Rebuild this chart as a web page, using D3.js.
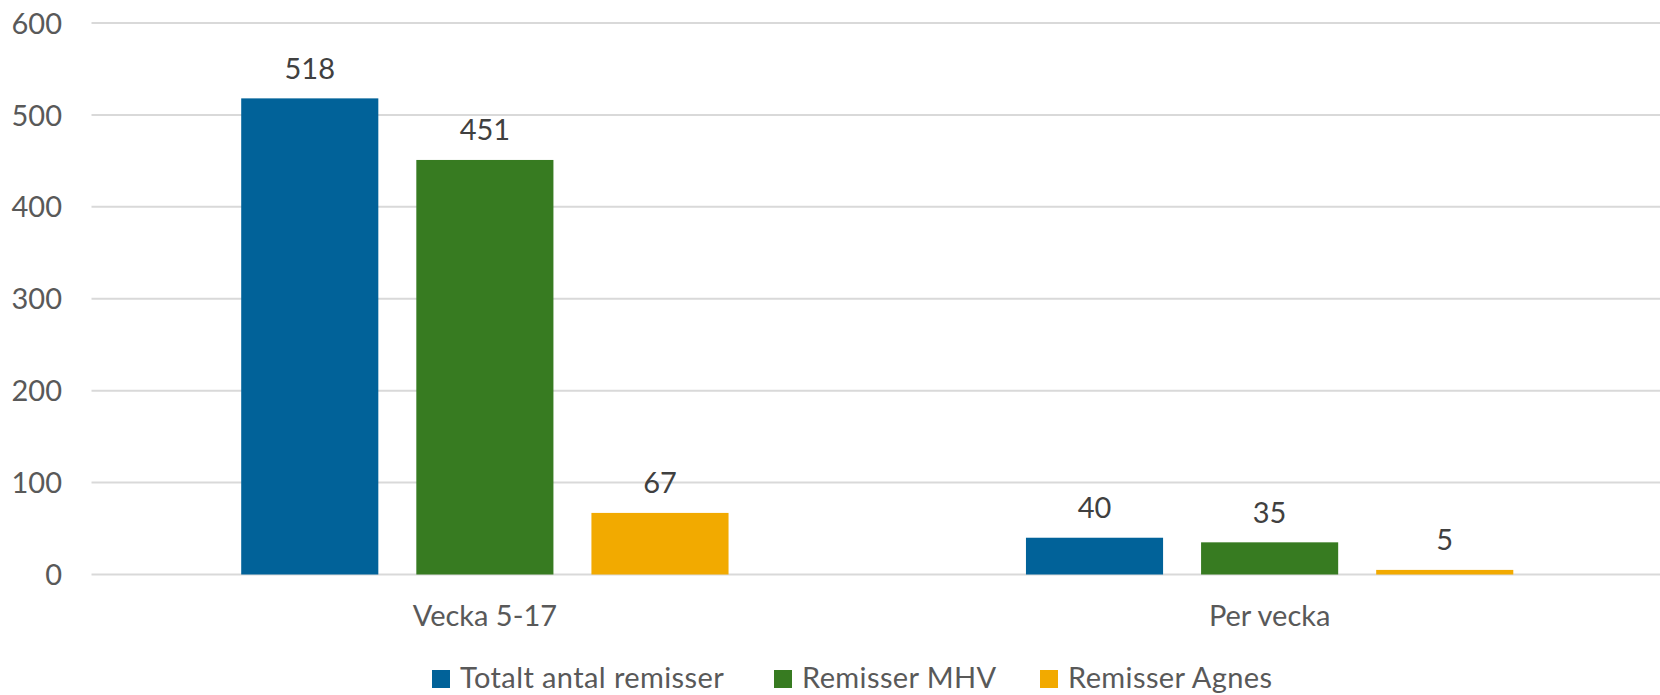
<!DOCTYPE html>
<html>
<head>
<meta charset="utf-8">
<script src="https://cdn.jsdelivr.net/npm/d3@7"></script>
<style>
  html, body { margin: 0; padding: 0; background: #ffffff; }
  svg { display: block; font-family: Lato, "Open Sans", sans-serif; }
</style>
</head>
<body>
<svg id="chart" width="1660" height="695"></svg>
<script>
const categories = ["Vecka 5-17", "Per vecka"];
const seriesNames = ["Totalt antal remisser", "Remisser MHV", "Remisser Agnes"];
const totaltValues = [518, 40];
const mhvValues = [451, 35];
const agnesValues = [67, 5];
const yTicks = [0, 100, 200, 300, 400, 500, 600];
const colors = ["#016299", "#377B21", "#F2AA00"];

(function () {
const seriesValues = [totaltValues, mhvValues, agnesValues];
const FS = 29;

const svg = d3.select("#chart");
const mLeft = 92.5, mRight = 1662, mTop = 23, mBottom = 574.5;

const x0 = d3.scaleBand().domain(categories).range([mLeft, mRight]).paddingInner(0).paddingOuter(0);
const groupW = x0.bandwidth() * 0.621;
const x1 = d3.scaleBand().domain(seriesNames).range([0, groupW]).paddingInner(0.217).paddingOuter(0);
const groupOffset = (x0.bandwidth() - groupW) / 2;
const y = d3.scaleLinear().domain([0, 600]).range([mBottom, mTop]);

// gridlines
svg.append("g").selectAll("line").data(yTicks).join("line")
  .attr("x1", 91.5).attr("x2", 1660)
  .attr("y1", d => y(d)).attr("y2", d => y(d))
  .attr("stroke", "#D9D9D9").attr("stroke-width", 2);

// y axis labels
const yAxis = d3.axisLeft(y).tickValues(yTicks).tickSize(0).tickPadding(0);
const yg = svg.append("g").attr("transform", `translate(62,0)`).call(yAxis);
yg.select(".domain").remove();
yg.selectAll("text").attr("font-size", FS).attr("fill", "#595959")
  .attr("font-family", "Lato, 'Open Sans', sans-serif").attr("dy", "0.35em");

// bars
const groups = svg.append("g").selectAll("g").data(categories).join("g")
  .attr("transform", d => `translate(${x0(d) + groupOffset},0)`);

groups.each(function(cat, ci) {
  const g = d3.select(this);
  const data = seriesNames.map((s, si) => ({ s, si, v: seriesValues[si][ci] }));
  g.selectAll("rect").data(data).join("rect")
    .attr("x", d => x1(d.s)).attr("width", x1.bandwidth())
    .attr("y", d => y(d.v)).attr("height", d => y(0) - y(d.v))
    .attr("fill", d => colors[d.si]);
  g.selectAll("text.lbl").data(data).join("text").attr("class", "lbl")
    .attr("x", d => x1(d.s) + x1.bandwidth() / 2)
    .attr("y", d => y(d.v) - 19.5)
    .attr("text-anchor", "middle").attr("font-size", FS).attr("fill", "#404040")
    .text(d => d.v);
});

// x axis labels
const xAxis = d3.axisBottom(x0).tickSize(0).tickPadding(0);
const xg = svg.append("g").attr("transform", `translate(0,626)`).call(xAxis);
xg.select(".domain").remove();
xg.selectAll("text").attr("font-size", FS).attr("fill", "#595959")
  .attr("font-family", "Lato, 'Open Sans', sans-serif").attr("dy", "0");

// legend
const legendX = [432, 774, 1040];
const lg = svg.append("g").selectAll("g").data(seriesNames).join("g")
  .attr("transform", (d, i) => `translate(${legendX[i]},670)`);
lg.append("rect").attr("width", 18).attr("height", 18).attr("fill", (d, i) => colors[i]);
lg.append("text").attr("x", 28).attr("y", 18).attr("font-size", FS).attr("letter-spacing", 0.4)
  .attr("fill", "#595959").text(d => d);
})();
</script>
</body>
</html>
